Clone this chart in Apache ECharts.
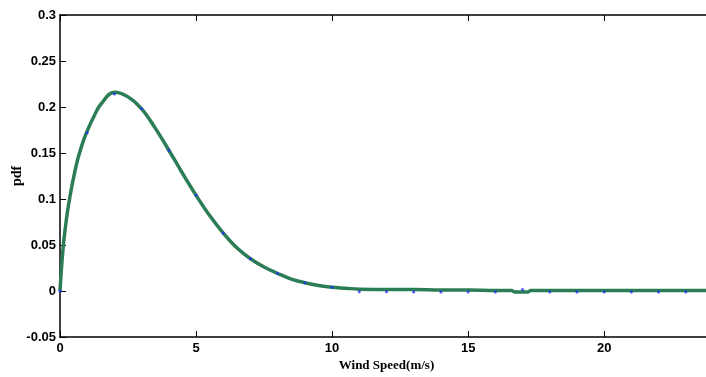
<!DOCTYPE html>
<html>
<head>
<meta charset="utf-8">
<script src="https://cdn.jsdelivr.net/npm/echarts@6/dist/echarts.min.js"></script>
<style>html,body{margin:0;padding:0;background:#fff}#c{width:706px;height:377px}</style>
</head>
<body>
<div id="c"></div>
<script>
// Fitted pdf curve (green)
const curveX = [0, 0.1, 0.2, 0.35, 0.6, 0.8, 1, 1.25, 1.5, 2, 2.5, 3, 3.5, 4, 4.5, 5, 5.5, 6, 6.5, 7, 7.5, 8, 8.5, 9, 9.5, 10, 10.5, 11, 12, 13, 14, 15, 16, 16.6, 16.7, 17.2, 17.3, 18, 19, 20, 21, 22, 23, 24];
const curveY = [0, 0.042, 0.07, 0.1, 0.137, 0.158, 0.174, 0.19, 0.203, 0.216, 0.211, 0.198, 0.177, 0.153, 0.128, 0.104, 0.082, 0.063, 0.047, 0.035, 0.026, 0.019, 0.013, 0.009, 0.006, 0.004, 0.003, 0.002, 0.0015, 0.0015, 0.001, 0.001, 0.0005, 0.0005, -0.001, -0.001, 0.0005, 0.0005, 0.0005, 0.0005, 0.0005, 0.0005, 0.0005, 0.0005];
// Empirical points (blue)
const pointX = [0, 1, 2, 3, 4, 5, 6, 7, 8, 9, 10, 11, 12, 13, 14, 15, 16, 17, 18, 19, 20, 21, 22, 23];
const pointY = [0, 0.172, 0.214, 0.198, 0.153, 0.104, 0.063, 0.035, 0.019, 0.009, 0.004, -0.0007, -0.0007, -0.001, -0.001, -0.001, -0.001, 0.0015, -0.001, -0.001, -0.001, -0.001, -0.001, -0.001];
const xTicks = [0, 5, 10, 15, 20];
const yTicks = [-0.05, 0, 0.05, 0.1, 0.15, 0.2, 0.25, 0.3];

const chart = echarts.init(document.getElementById('c'), null, {renderer: 'canvas'});
const labelFont = {color: '#000', fontFamily: 'Liberation Sans, Arial, sans-serif', fontWeight: 'bold', fontSize: 13};
const axisLineStyle = {color: '#000', width: 1.5};
chart.setOption({
  animation: false,
  backgroundColor: '#fff',
  grid: {left: 60, top: 15, right: -7, bottom: 40, containLabel: false, outerBoundsMode: 'none'},
  xAxis: [{
    type: 'value', min: 0, max: 24, interval: 5,
    name: 'Wind Speed(m/s)', nameLocation: 'middle', nameGap: 22, nameMoveOverlap: false,
    nameTextStyle: {color: '#000', fontFamily: 'Liberation Serif, Times New Roman, serif', fontWeight: 'bold', fontSize: 13},
    axisLine: {show: true, onZero: false, lineStyle: axisLineStyle},
    axisTick: {show: true, inside: true, length: 6, lineStyle: {color: '#000'}},
    axisLabel: Object.assign({margin: 5, formatter: v => xTicks.includes(v) ? String(v) : ''}, labelFont),
    splitLine: {show: false}
  }, {
    type: 'value', min: 0, max: 24, interval: 5, position: 'top',
    axisLine: {show: true, onZero: false, lineStyle: axisLineStyle},
    axisTick: {show: true, inside: true, length: 6, lineStyle: {color: '#000'}},
    axisLabel: {show: false},
    splitLine: {show: false}
  }],
  yAxis: [{
    type: 'value', min: -0.05, max: 0.3, interval: 0.05,
    name: 'pdf', nameLocation: 'middle', nameGap: 36, nameRotate: 90, nameMoveOverlap: false,
    nameTextStyle: {color: '#000', fontFamily: 'Liberation Serif, Times New Roman, serif', fontWeight: 'bold', fontSize: 14},
    axisLine: {show: true, onZero: false, lineStyle: axisLineStyle},
    axisTick: {show: true, inside: true, length: 6, lineStyle: {color: '#000'}},
    axisLabel: Object.assign({margin: 4, formatter: v => {
      const r = parseFloat(v.toFixed(2));
      return yTicks.some(t => Math.abs(t - r) < 1e-9) ? String(r) : '';
    }}, labelFont),
    splitLine: {show: false}
  }],
  series: [{
    type: 'line',
    data: curveX.map((x, i) => [x, curveY[i]]),
    smooth: 0.4,
    showSymbol: false, symbol: 'none',
    lineStyle: {color: '#2b7d55', width: 3.5},
    z: 2
  }, {
    type: 'scatter',
    data: pointX.map((x, i) => [x, pointY[i]]),
    symbol: 'circle', symbolSize: 3,
    itemStyle: {color: '#1f2dff'},
    z: 3
  }]
});
</script>
</body>
</html>
